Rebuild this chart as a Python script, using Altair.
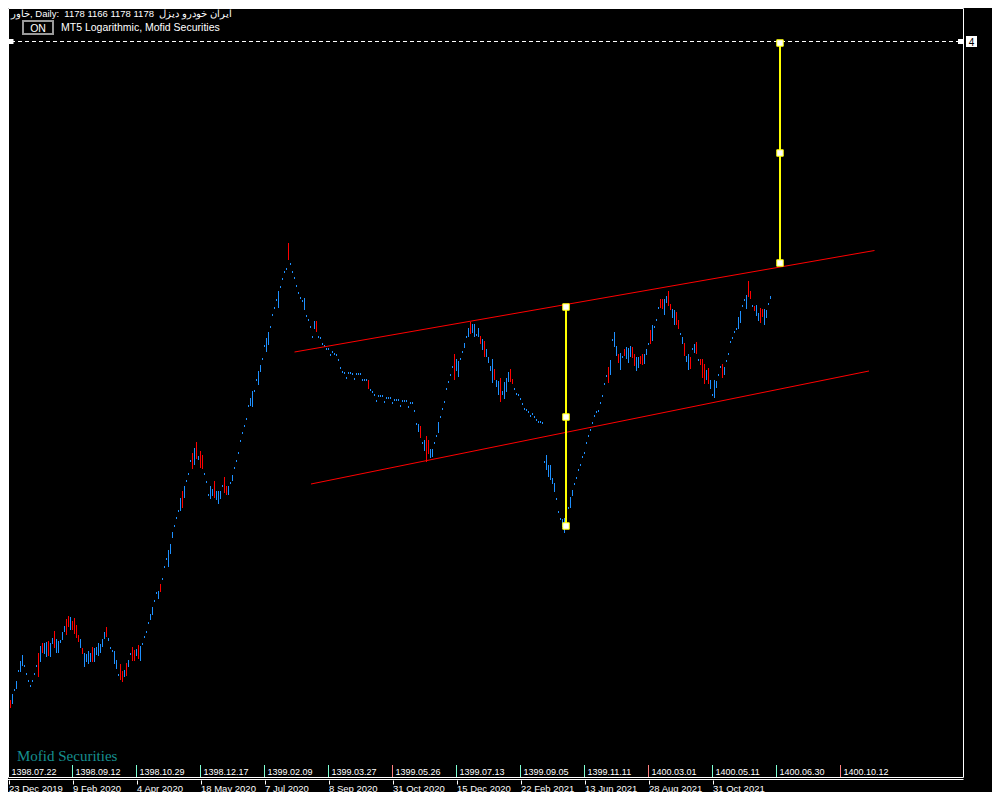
import json
import altair as alt
import pandas as pd

# ---------------- data (prices) ----------------
highs = [
    372, 384, 394, 410, 432, 450, 462, 442, 426, 412,
    402, 412, 426, 442, 466, 480, 486, 486, 488, 490,
    486, 496, 510, 494, 490, 492, 508, 520, 534, 540,
    538, 530, 536, 522, 502, 494, 476, 466, 464, 470,
    466, 478, 476, 478, 486, 484, 494, 508, 518, 496,
    478, 472, 470, 452, 424, 444, 430, 432, 446, 452,
    466, 478, 472, 474, 482, 480, 486, 500, 510, 528,
    544, 558, 572, 588, 590, 604, 616, 640, 656, 672,
    684, 708, 722, 738, 752, 776, 790, 800, 812, 826,
    852, 866, 876, 888, 860, 870, 862, 826, 810, 784,
    800, 794, 810, 790, 790, 790, 802, 818, 800, 800,
    808, 822, 838, 852, 868, 892, 908, 922, 936, 962,
    976, 990, 992, 1014, 1030, 1042, 1056, 1082, 1096, 1108,
    1120, 1144, 1158, 1174, 1190, 1200, 1216, 1230, 1236, 1286,
    1246, 1230, 1218, 1202, 1188, 1178, 1172, 1176, 1142, 1134,
    1120, 1100, 1130, 1130, 1100, 1098, 1086, 1082, 1076, 1076,
    1064, 1070, 1066, 1064, 1054, 1038, 1030, 1028, 1018, 1028,
    1028, 1026, 1016, 1026, 1026, 1026, 1014, 1014, 1014, 1012,
    994, 990, 984, 972, 982, 982, 982, 970, 978, 978,
    978, 968, 974, 974, 974, 962, 972, 972, 972, 960,
    968, 968, 952, 926, 924, 920, 888, 892, 900, 892,
    874, 874, 888, 902, 928, 940, 956, 970, 996, 1010,
    1024, 1040, 1064, 1054, 1050, 1056, 1070, 1086, 1100, 1116,
    1128, 1124, 1124, 1104, 1116, 1100, 1094, 1090, 1074, 1058,
    1040, 1054, 1034, 1012, 1010, 1016, 990, 1008, 1016, 1028,
    1034, 1014, 996, 986, 984, 976, 966, 956, 954, 950,
    942, 946, 940, 934, 930, 930, 928, 850, 862, 842,
    842, 816, 806, 776, 750, 736, 734, 736, 732, 758,
    778, 792, 806, 818, 834, 844, 860, 868, 888, 902,
    914, 928, 942, 950, 952, 968, 982, 1006, 1022, 1038,
    1052, 1094, 1108, 1080, 1064, 1066, 1060, 1074, 1078, 1076,
    1080, 1078, 1064, 1058, 1058, 1060, 1064, 1064, 1074, 1086,
    1112, 1122, 1120, 1134, 1158, 1174, 1174, 1174, 1180, 1190,
    1164, 1154, 1152, 1148, 1132, 1106, 1098, 1086, 1060, 1064,
    1058, 1076, 1084, 1088, 1054, 1054, 1054, 1044, 1032, 1036,
    1012, 984, 1012, 1010, 1024, 1040, 1044, 1038, 1052, 1066,
    1090, 1098, 1110, 1116, 1138, 1150, 1162, 1174, 1182, 1210,
    1190, 1162, 1160, 1162, 1146, 1156, 1154, 1154, 1152, 1166,
    1180,
]
lows = [
    356, 364, 390, 394, 428, 428, 440, 438, 422, 408,
    398, 408, 422, 438, 418, 448, 466, 464, 458, 460,
    458, 484, 476, 466, 466, 486, 492, 508, 502, 518,
    512, 512, 504, 496, 488, 476, 464, 438, 448, 444,
    448, 448, 448, 462, 460, 466, 478, 494, 498, 490,
    474, 468, 444, 434, 420, 412, 408, 418, 420, 438,
    462, 450, 450, 460, 454, 450, 482, 496, 506, 524,
    532, 542, 568, 584, 574, 588, 612, 636, 652, 638,
    664, 696, 718, 734, 748, 750, 756, 776, 808, 822,
    848, 834, 842, 854, 852, 836, 834, 822, 806, 780,
    774, 780, 776, 772, 764, 774, 798, 786, 782, 782,
    804, 810, 834, 848, 864, 888, 904, 918, 932, 958,
    960, 958, 988, 1010, 1002, 1028, 1052, 1078, 1068, 1082,
    1116, 1140, 1154, 1170, 1156, 1196, 1212, 1226, 1232, 1252,
    1242, 1226, 1214, 1198, 1184, 1174, 1168, 1152, 1138, 1130,
    1116, 1096, 1114, 1108, 1096, 1094, 1082, 1078, 1072, 1072,
    1060, 1066, 1062, 1060, 1050, 1034, 1026, 1024, 1014, 1024,
    1024, 1022, 1012, 1022, 1022, 1022, 1010, 1010, 1010, 994,
    990, 986, 980, 968, 978, 978, 978, 966, 974, 974,
    974, 964, 970, 970, 970, 958, 968, 968, 968, 956,
    964, 964, 948, 922, 908, 896, 884, 870, 848, 864,
    856, 858, 884, 898, 906, 936, 952, 966, 992, 1006,
    1020, 1036, 1012, 1030, 1018, 1052, 1066, 1076, 1096, 1098,
    1104, 1106, 1098, 1100, 1098, 1084, 1072, 1058, 1058, 1046,
    1030, 1006, 1012, 998, 982, 968, 982, 974, 988, 1008,
    1008, 1004, 992, 982, 980, 972, 962, 952, 950, 946,
    938, 942, 936, 930, 926, 926, 924, 846, 832, 818,
    812, 804, 788, 772, 746, 732, 718, 706, 720, 754,
    756, 780, 802, 814, 830, 840, 856, 864, 884, 898,
    910, 924, 938, 946, 948, 964, 978, 1002, 1018, 1006,
    1022, 1090, 1078, 1060, 1046, 1032, 1056, 1060, 1054, 1046,
    1058, 1056, 1040, 1030, 1036, 1044, 1042, 1044, 1062, 1082,
    1084, 1090, 1116, 1130, 1154, 1156, 1154, 1142, 1166, 1160,
    1152, 1136, 1122, 1122, 1114, 1102, 1084, 1060, 1048, 1032,
    1034, 1072, 1066, 1064, 1050, 1042, 1016, 1004, 1012, 1004,
    994, 980, 976, 996, 1020, 1036, 1016, 1022, 1048, 1062,
    1086, 1094, 1106, 1112, 1114, 1126, 1158, 1170, 1154, 1178,
    1174, 1158, 1150, 1140, 1130, 1126, 1138, 1122, 1136, 1162,
    1174,
]
down_bars = [0, 14, 16, 19, 22, 28, 29, 31, 32, 33, 34, 36, 41, 48, 55, 56, 58,
             61, 62, 64, 75, 86, 91, 93, 95, 96, 102, 107, 108, 139, 153, 179,
             205, 208, 209, 222, 230, 235, 237, 242, 245, 250, 251, 299, 304,
             307, 311, 312, 315, 316, 320, 325, 326, 329, 330, 333, 334, 337,
             340, 343, 345, 346, 347, 349, 356, 369, 370, 372, 375, 376]

greg_labels = ["23 Dec 2019", "9 Feb 2020", "4 Apr 2020", "18 May 2020", "7 Jul 2020",
               "8 Sep 2020", "31 Oct 2020", "15 Dec 2020", "22 Feb 2021",
               "13 Jun 2021", "28 Aug 2021", "31 Oct 2021"]
hijri_labels = ["1398.07.22", "1398.09.12", "1398.10.29", "1398.12.17", "1399.02.09",
                "1399.03.27", "1399.05.26", "1399.07.13", "1399.09.05", "1399.11.11",
                "1400.03.01", "1400.05.11", "1400.06.30", "1400.10.12"]
hijri_tick_colors = ["#ff3030", "#7fffd4", "#7fffd4", "#7fffd4", "#7fffd4", "#7fffd4",
                     "#ff8080", "#7fffd4", "#7fffd4", "#7fffd4", "#ff8080", "#7fffd4",
                     "#7fffd4", "#ff8080"]
label_first_bar = -1
label_step = 32

# channel lines (bar index, price)
channel_x = [142, 150.25]
channel_y = [1068, 804]
channel_x2 = [432, 429.25]
channel_y2 = [1271, 1030]

# vertical projection lines
proj_bar = [277.75, 384.75]
proj_top = [1158, 1686]
proj_mid = [938, 1466]
proj_bottom = [720, 1246]

# horizontal dashed line
hline_price = 1689
hline_from, hline_to = 0.25, 476.0

NB = "\u00a0"
header_text = f"خاور, Daily:{NB}{NB}1178 1166 1178 1178{NB}{NB}ایران خودرو دیزل"
subheader_text = "MT5 Logarithmic, Mofid Securities"
watermark_text = "Mofid Securities"
hline_label = "4"

# ---------------- tables ----------------
n = len(highs)
bars_df = pd.DataFrame({
    "bar": list(range(n)),
    "high": highs,
    "low": lows,
    "dir": ["down" if i in down_bars else "up" for i in range(n)],
})
channel_df = pd.DataFrame({"x": channel_x, "y": channel_y, "x2": channel_x2, "y2": channel_y2})
proj_line_df = pd.DataFrame({"x": proj_bar, "y": proj_top, "y2": proj_bottom})
proj_pts_df = pd.DataFrame({
    "x": proj_bar * 3,
    "y": proj_top + proj_mid + proj_bottom,
})
hline_df = pd.DataFrame({"x": [hline_from], "x2": [hline_to], "y": [hline_price]})
hline_end_df = pd.DataFrame({"x": [hline_from, hline_to - 1.0], "y": [hline_price, hline_price]})
hijri_df = pd.DataFrame({
    "bar": [label_first_bar + label_step * k for k in range(len(hijri_labels))],
    "label": hijri_labels,
    "c": hijri_tick_colors,
})
greg_ticks = [label_first_bar + label_step * k for k in range(len(greg_labels))]

one = pd.DataFrame({"a": [0]})

xscale = alt.Scale(domain=[-1.25, 490.75], nice=False, zero=False)
yscale = alt.Scale(domain=[212, 1756], nice=False, zero=False)

label_expr = (f"{json.dumps(greg_labels)}"
              f"[round((datum.value - ({label_first_bar})) / {label_step})]")
xaxis = alt.Axis(values=greg_ticks, labelExpr=label_expr, domain=False, grid=False,
                 ticks=True, tickColor="white", tickSize=4, tickWidth=1,
                 labelColor="white", labelFont="Liberation Sans", labelFontSize=9.5,
                 labelAlign="left", labelBaseline="alphabetic", labelPadding=7,
                 labelOverlap=False, labelFlush=False, labelBound=False, title=None)


def X(field):
    return alt.X(field, type="quantitative", scale=xscale, axis=xaxis)


def Y(field):
    return alt.Y(field, type="quantitative", scale=yscale, axis=None)


layers = []

# price bars
layers.append(
    alt.Chart(bars_df).mark_rule(strokeWidth=1).encode(
        x=X("bar"), y=Y("high"), y2="low",
        color=alt.Color("dir:N", scale=alt.Scale(domain=["up", "down"],
                                                 range=["#1e90ff", "#ff0000"]), legend=None),
    )
)

# channel
layers.append(
    alt.Chart(channel_df).mark_rule(color="#ff0000", strokeWidth=1).encode(
        x=X("x"), y=Y("y"), x2="x2", y2="y2")
)

# dashed horizontal
layers.append(
    alt.Chart(hline_df).mark_rule(color="white", strokeWidth=1, strokeDash=[4, 3]).encode(
        x=X("x"), x2="x2", y=Y("y"))
)
layers.append(
    alt.Chart(hline_end_df).mark_square(size=25, filled=True, color="white", opacity=1).encode(
        x=X("x"), y=Y("y"))
)

# projections
layers.append(
    alt.Chart(proj_line_df).mark_rule(color="#ffff00", strokeWidth=2).encode(
        x=X("x"), y=Y("y"), y2="y2")
)
layers.append(
    alt.Chart(proj_pts_df).mark_square(size=42, filled=True, color="white", fill="white",
                                       stroke="#ffff00", strokeWidth=1, opacity=1,
                                       fillOpacity=1, strokeOpacity=1).encode(
        x=X("x"), y=Y("y"))
)

# hijri date row
layers.append(
    alt.Chart(hijri_df).mark_rule(strokeWidth=1).encode(
        x=X("bar"), y=alt.value(757), y2=alt.value(769),
        color=alt.Color("c:N", scale=None))
)
layers.append(
    alt.Chart(hijri_df).mark_text(align="left", baseline="alphabetic", dx=3, fontSize=9,
                                  font="Liberation Sans", color="white").encode(
        x=X("bar"), y=alt.value(767), text="label:N")
)

# frame and axis line
layers.append(
    alt.Chart(one).mark_rect(fillOpacity=0, stroke="white", strokeWidth=1).encode(
        x=alt.value(0.5), x2=alt.value(955.5), y=alt.value(0.5), y2=alt.value(769.5))
)
layers.append(
    alt.Chart(one).mark_rule(color="white", strokeWidth=1).encode(
        x=alt.value(0), x2=alt.value(955.5), y=alt.value(771.5))
)

# texts
layers.append(
    alt.Chart(one).mark_text(text=header_text, align="left", baseline="alphabetic",
                             fontSize=9.5, font="Liberation Sans", color="white").encode(
        x=alt.value(3), y=alt.value(9))
)
layers.append(
    alt.Chart(one).mark_rect(fill="black", stroke="#9a9a9a", strokeWidth=2).encode(
        x=alt.value(15), x2=alt.value(45), y=alt.value(13), y2=alt.value(26))
)
layers.append(
    alt.Chart(one).mark_text(text="ON", align="center", baseline="alphabetic",
                             fontSize=10.5, font="Liberation Sans", color="white").encode(
        x=alt.value(30), y=alt.value(24))
)
layers.append(
    alt.Chart(one).mark_text(text=subheader_text, align="left", baseline="alphabetic",
                             fontSize=10.5, font="Liberation Sans", color="white").encode(
        x=alt.value(53), y=alt.value(23))
)
layers.append(
    alt.Chart(one).mark_text(text=watermark_text, align="left", baseline="alphabetic",
                             fontSize=15, font="Liberation Serif", color="#168f8f").encode(
        x=alt.value(9), y=alt.value(753))
)
layers.append(
    alt.Chart(one).mark_rect(fill="white").encode(
        x=alt.value(958), x2=alt.value(969), y=alt.value(28), y2=alt.value(39))
)
layers.append(
    alt.Chart(one).mark_text(text=hline_label, align="center", baseline="alphabetic",
                             fontSize=10, font="Liberation Sans", color="black").encode(
        x=alt.value(963.5), y=alt.value(37.5))
)

chart = alt.layer(*layers).properties(
    width=984, height=772,
    padding={"left": 0, "right": 0, "top": 0, "bottom": 12},
    autosize=alt.AutoSizeParams(type="none"),
).configure(background="black").configure_view(strokeWidth=0)

chart.save("out.html", embed_options={"renderer": "svg", "actions": False})
